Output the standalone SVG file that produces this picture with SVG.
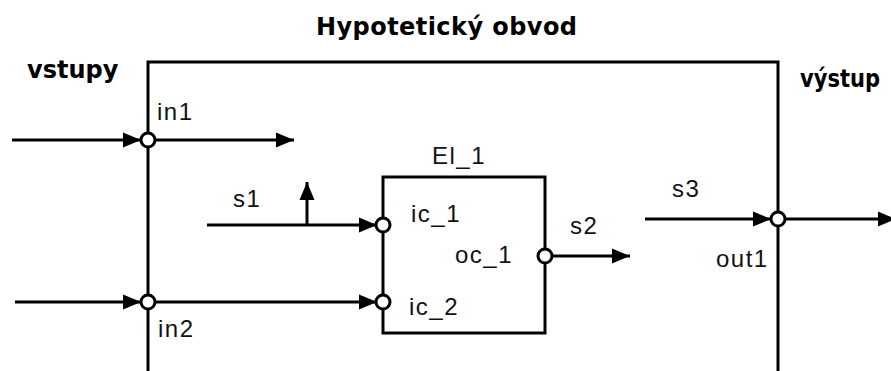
<svg xmlns="http://www.w3.org/2000/svg" width="891" height="371" viewBox="0 0 891 371">
  <defs>
    <marker id="arr" markerWidth="19" markerHeight="16" refX="18" refY="8" orient="auto" markerUnits="userSpaceOnUse">
      <path d="M0,0.5 L18,8 L0,15.5 Z" fill="#000"/>
    </marker>
    <style>
      .ln { stroke: #000; stroke-width: 3; fill: none; }
      .port { stroke: #000; stroke-width: 3; fill: #fff; }
      .lbl { font-family: "Liberation Sans", Arial, sans-serif; font-size: 24px; letter-spacing: 1.5px; fill: #111; }
      .bold { font-family: "DejaVu Sans", Verdana, sans-serif; font-size: 24px; font-weight: bold; fill: #000; }
    </style>
  </defs>
  <rect width="891" height="371" fill="#fff"/>

  <g id="titles">
    <text class="bold" x="316" y="35" textLength="261">Hypotetický obvod</text>
    <text class="bold" x="27" y="78">vstupy</text>
    <text class="bold" x="800" y="87" textLength="80" lengthAdjust="spacingAndGlyphs">výstup</text>
  </g>

  <g id="circuit">
    <path class="ln" d="M148,371 V62 H778 V371"/>
  </g>

  <g id="el_1">
    <rect class="ln" x="383" y="177" width="162" height="156"/>
    <text class="lbl" x="432" y="164">El_1</text>
    <text class="lbl" x="411" y="222">ic_1</text>
    <text class="lbl" x="409" y="315">ic_2</text>
    <text class="lbl" x="455" y="263">oc_1</text>
  </g>

  <g id="connectors">
    <line class="ln" x1="12" y1="140" x2="141" y2="140" marker-end="url(#arr)"/>
    <line class="ln" x1="154" y1="140" x2="294" y2="140" marker-end="url(#arr)"/>
    <line class="ln" x1="15" y1="302" x2="141" y2="302" marker-end="url(#arr)"/>
    <line class="ln" x1="154" y1="302" x2="377" y2="302" marker-end="url(#arr)"/>
    <line class="ln" x1="207" y1="225" x2="377" y2="225" marker-end="url(#arr)"/>
    <line class="ln" x1="307" y1="225" x2="307" y2="182" marker-end="url(#arr)"/>
    <line class="ln" x1="551" y1="256" x2="630" y2="256" marker-end="url(#arr)"/>
    <line class="ln" x1="645" y1="219" x2="771" y2="219" marker-end="url(#arr)"/>
    <line class="ln" x1="784" y1="219" x2="896" y2="219" marker-end="url(#arr)"/>
  </g>

  <g id="ports">
    <g id="in1"><circle class="port" cx="148" cy="140" r="7"/><text class="lbl" x="157" y="120">in1</text></g>
    <g id="in2"><circle class="port" cx="148" cy="302" r="7"/><text class="lbl" x="158" y="337">in2</text></g>
    <g id="ic_1"><circle class="port" cx="383" cy="225" r="7"/></g>
    <g id="ic_2"><circle class="port" cx="383" cy="302" r="7"/></g>
    <g id="oc_1"><circle class="port" cx="545" cy="256" r="7"/></g>
    <g id="out1"><circle class="port" cx="778" cy="219" r="7"/><text class="lbl" x="716" y="267">out1</text></g>
  </g>

  <g id="signals">
    <text class="lbl" x="233" y="207">s1</text>
    <text class="lbl" x="570" y="234">s2</text>
    <text class="lbl" x="672" y="197">s3</text>
  </g>
</svg>
